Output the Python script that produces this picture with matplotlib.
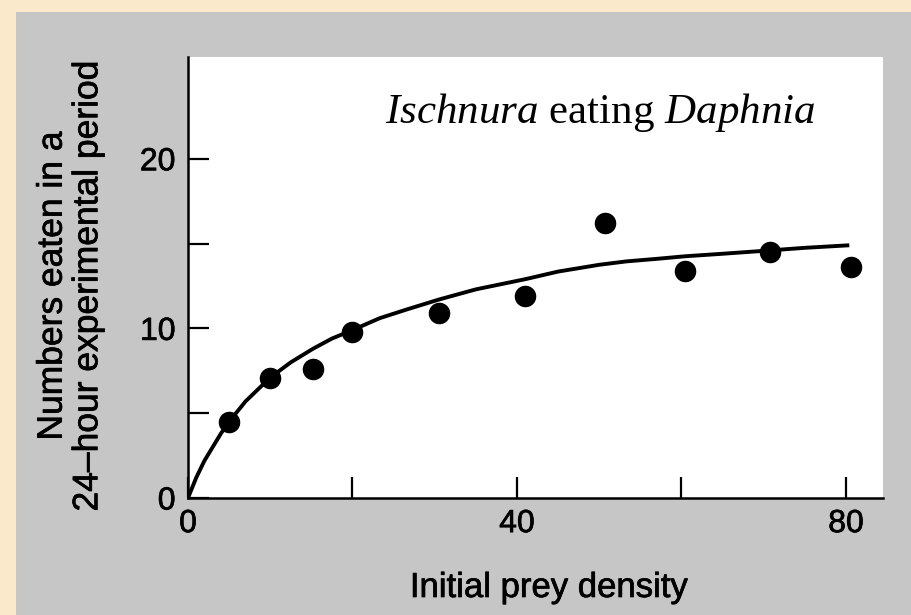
import matplotlib
matplotlib.use("Agg")
import matplotlib.pyplot as plt
import matplotlib.patheffects as pe
from matplotlib.patches import Rectangle

# Observed points: initial prey density vs numbers eaten
prey_density = [5, 10, 15.2, 20, 30.5, 41, 50.7, 60.4, 70.8, 80.6]
numbers_eaten = [4.5, 7.1, 7.6, 9.8, 10.9, 11.9, 16.2, 13.4, 14.5, 13.6]

# Fitted curve
curve_x = [0, 1, 2, 3, 4, 5, 7, 10, 12.5, 15.2, 17.5, 20, 23.3, 26.5,
           30.5, 35, 41, 45, 50, 53.3, 57, 60.4, 65, 70.8, 75, 80.4]
curve_y = [0, 1.2, 2.2, 3.0, 3.8, 4.5, 5.7, 7.1, 8.0, 8.8, 9.4, 9.9, 10.6,
           11.1, 11.7, 12.3, 12.9, 13.35, 13.75, 13.95, 14.1, 14.25, 14.4,
           14.6, 14.75, 14.9]

x_ticks = [0, 20, 40, 60, 80]
x_tick_labels = ["0", "", "40", "", "80"]
y_ticks = [0, 5, 10, 15, 20]
y_tick_labels = ["0", "", "10", "", "20"]

plt.rcParams["font.family"] = ["Liberation Sans", "DejaVu Sans"]
plt.rcParams["mathtext.fontset"] = "custom"
plt.rcParams["mathtext.rm"] = "Liberation Serif"
plt.rcParams["mathtext.it"] = "Liberation Serif:italic"

W, H = 911, 615
fig = plt.figure(figsize=(W / 100, H / 100), dpi=100, facecolor="#c6c6c6")

# cream page border on the left and top
fig.patches.append(Rectangle((0, 0), 16 / W, 1, transform=fig.transFigure,
                             facecolor="#fbe9cb", edgecolor="none", zorder=0))
fig.patches.append(Rectangle((0, 1 - 12 / H), 1, 12 / H,
                             transform=fig.transFigure,
                             facecolor="#fbe9cb", edgecolor="none", zorder=0))

ax = fig.add_axes([188 / W, 117 / H, 695 / W, 441 / H])
ax.set_facecolor("white")

ax.plot(curve_x, curve_y, color="black", lw=2.8, solid_capstyle="butt",
        solid_joinstyle="round", zorder=3)
ax.plot(prey_density, numbers_eaten, "o", color="black", ms=14.5,
        zorder=4, clip_on=False)

ax.set_xlim(0, 84.5)
ax.set_ylim(0, 26)

for side in ("top", "right"):
    ax.spines[side].set_visible(False)
for side in ("left", "bottom"):
    ax.spines[side].set_linewidth(1.8)

ax.set_xticks(x_ticks)
ax.set_xticklabels(x_tick_labels)
ax.set_yticks(y_ticks)
ax.set_yticklabels(y_tick_labels)
ax.tick_params(direction="in", length=15, width=1.6, labelsize=23,
               colors="black")
ax.tick_params(axis="x", pad=8)
ax.tick_params(axis="y", pad=9)

# scanned print looks a little heavier than the regular weight
heavy = [pe.withStroke(linewidth=0.5, foreground="black")]
for lbl in ax.get_xticklabels() + ax.get_yticklabels():
    lbl.set_path_effects(heavy)

fig.text(549 / W, 1 - 597 / H, "Initial prey density", ha="center",
         va="baseline", fontsize=25, path_effects=heavy)
fig.text(70 / W, 1 - 286 / H,
         "Numbers eaten in a\n24\u2013hour experimental period",
         rotation=90, ha="center", va="center", multialignment="center",
         fontsize=25.5, linespacing=1.1, path_effects=heavy)

ax.text(600 / W, 1 - 123 / H, r"$\mathit{Ischnura}$ eating $\mathit{Daphnia}$",
        transform=fig.transFigure, ha="center", va="baseline",
        fontsize=31, family="Liberation Serif")

fig.savefig("out.png", dpi=100, facecolor=fig.get_facecolor())
